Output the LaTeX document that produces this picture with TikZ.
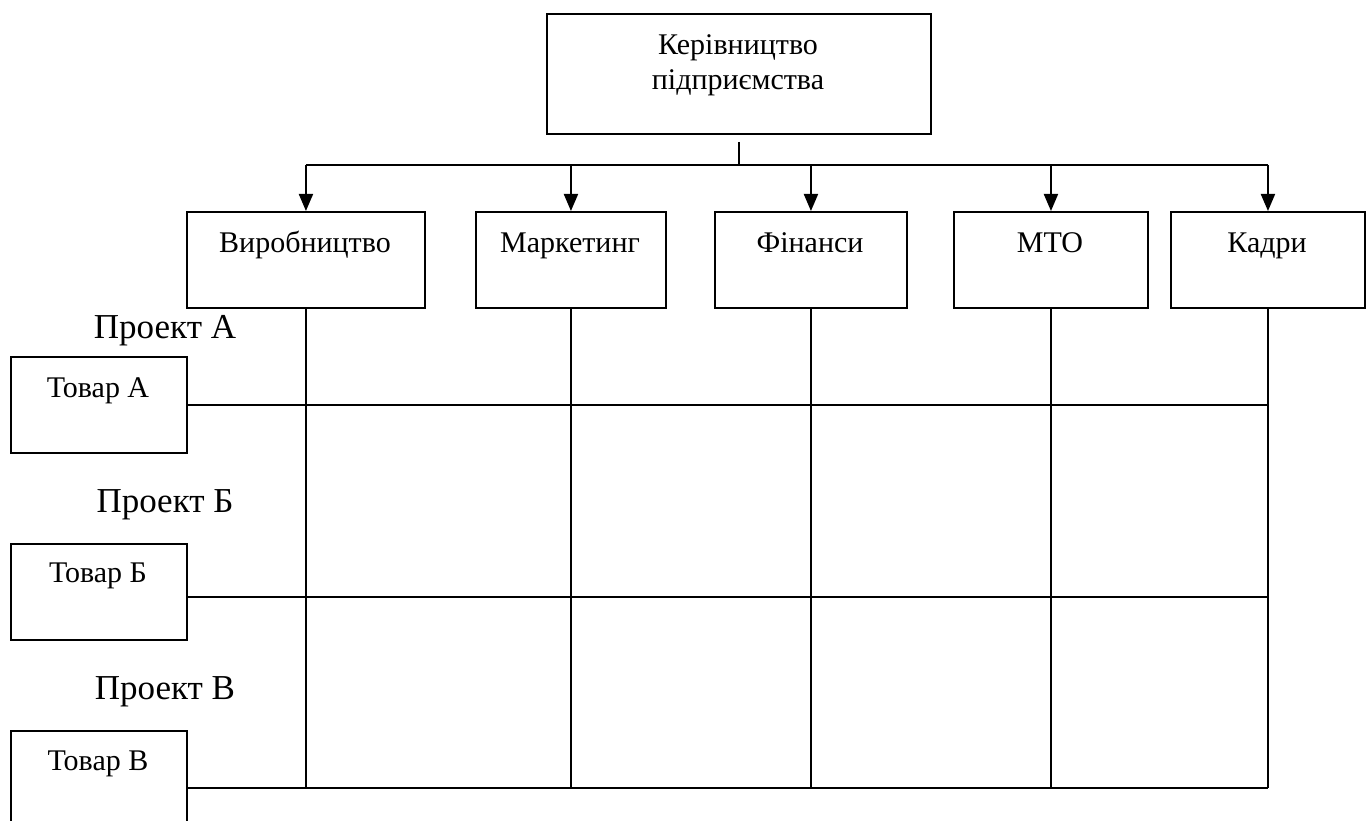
\documentclass[tikz,border=0pt]{standalone}
\usepackage{fontspec}
\setmainfont{Liberation Serif}
\usetikzlibrary{arrows.meta}
\begin{document}
\begin{tikzpicture}[x=1pt,y=-1pt,line width=1.9pt,
  box/.style={draw,rectangle,inner sep=0pt,anchor=north west},
  txt/.style={anchor=base,inner sep=0pt,font=\fontsize{30}{35}\selectfont},
  proj/.style={anchor=base,inner sep=0pt,font=\fontsize{35}{40}\selectfont},
  arr/.style={-{Triangle[length=17pt,width=14pt]}}]
\useasboundingbox (0,0) rectangle (1367,821);
\clip (0,0) rectangle (1367,821);

% management box
\node[box,minimum width=384pt,minimum height=120pt] (top) at (546,13) {};
\node[txt,align=center] (toptxt) at (738,90) {Керівництво\\підприємства};

% departments
\node[box,minimum width=238pt,minimum height=96pt] (prod) at (186,211) {};
\node[box,minimum width=190pt,minimum height=96pt] (mark) at (475,211) {};
\node[box,minimum width=192pt,minimum height=96pt] (fin)  at (714,211) {};
\node[box,minimum width=194pt,minimum height=96pt] (mto)  at (953,211) {};
\node[box,minimum width=194pt,minimum height=96pt] (kadr) at (1170,211) {};
\node[txt] (prodtxt) at (305,252)  {Виробництво};
\node[txt] (marktxt) at (570,252)  {Маркетинг};
\node[txt] (fintxt)  at (810,252)  {Фінанси};
\node[txt] (mtotxt)  at (1050,252) {МТО};
\node[txt] (kadrtxt) at (1267,252) {Кадри};

% products
\node[box,minimum width=176pt,minimum height=96pt]  (ta) at (10,356) {};
\node[box,minimum width=176pt,minimum height=96pt]  (tb) at (10,543) {};
\node[box,minimum width=176pt,minimum height=114pt] (tv) at (10,730) {};
\node[txt] (tatxt) at (98,397) {Товар А};
\node[txt] (tbtxt) at (98,582) {Товар Б};
\node[txt] (tvtxt) at (98,770) {Товар В};

% projects
\node[proj] (pa) at (165,338) {Проект А};
\node[proj] (pb) at (165,512) {Проект Б};
\node[proj] (pv) at (165,699) {Проект В};

% distribution bus
\coordinate (stem) at ([yshift=-7pt]top.south);
\coordinate (bus) at ([yshift=-30pt]top.south);
\draw (stem) -- (bus);
\draw (prod.north |- bus) -- (kadr.north |- bus);
\foreach \d in {prod,mark,fin,mto,kadr}
  \draw[arr] (\d.north |- bus) -- (\d.north);

% matrix rows
\coordinate (ra) at (ta.east);
\coordinate (rb) at ([yshift=-5pt]tb.east);
\coordinate (rv) at (tv.east);
\foreach \r in {ra,rb,rv}
  \draw (\r) -- (\r -| kadr.south);

% matrix columns
\foreach \d in {prod,mark,fin,mto,kadr}
  \draw (\d.south) -- (\d.south |- rv);
\end{tikzpicture}
\end{document}
